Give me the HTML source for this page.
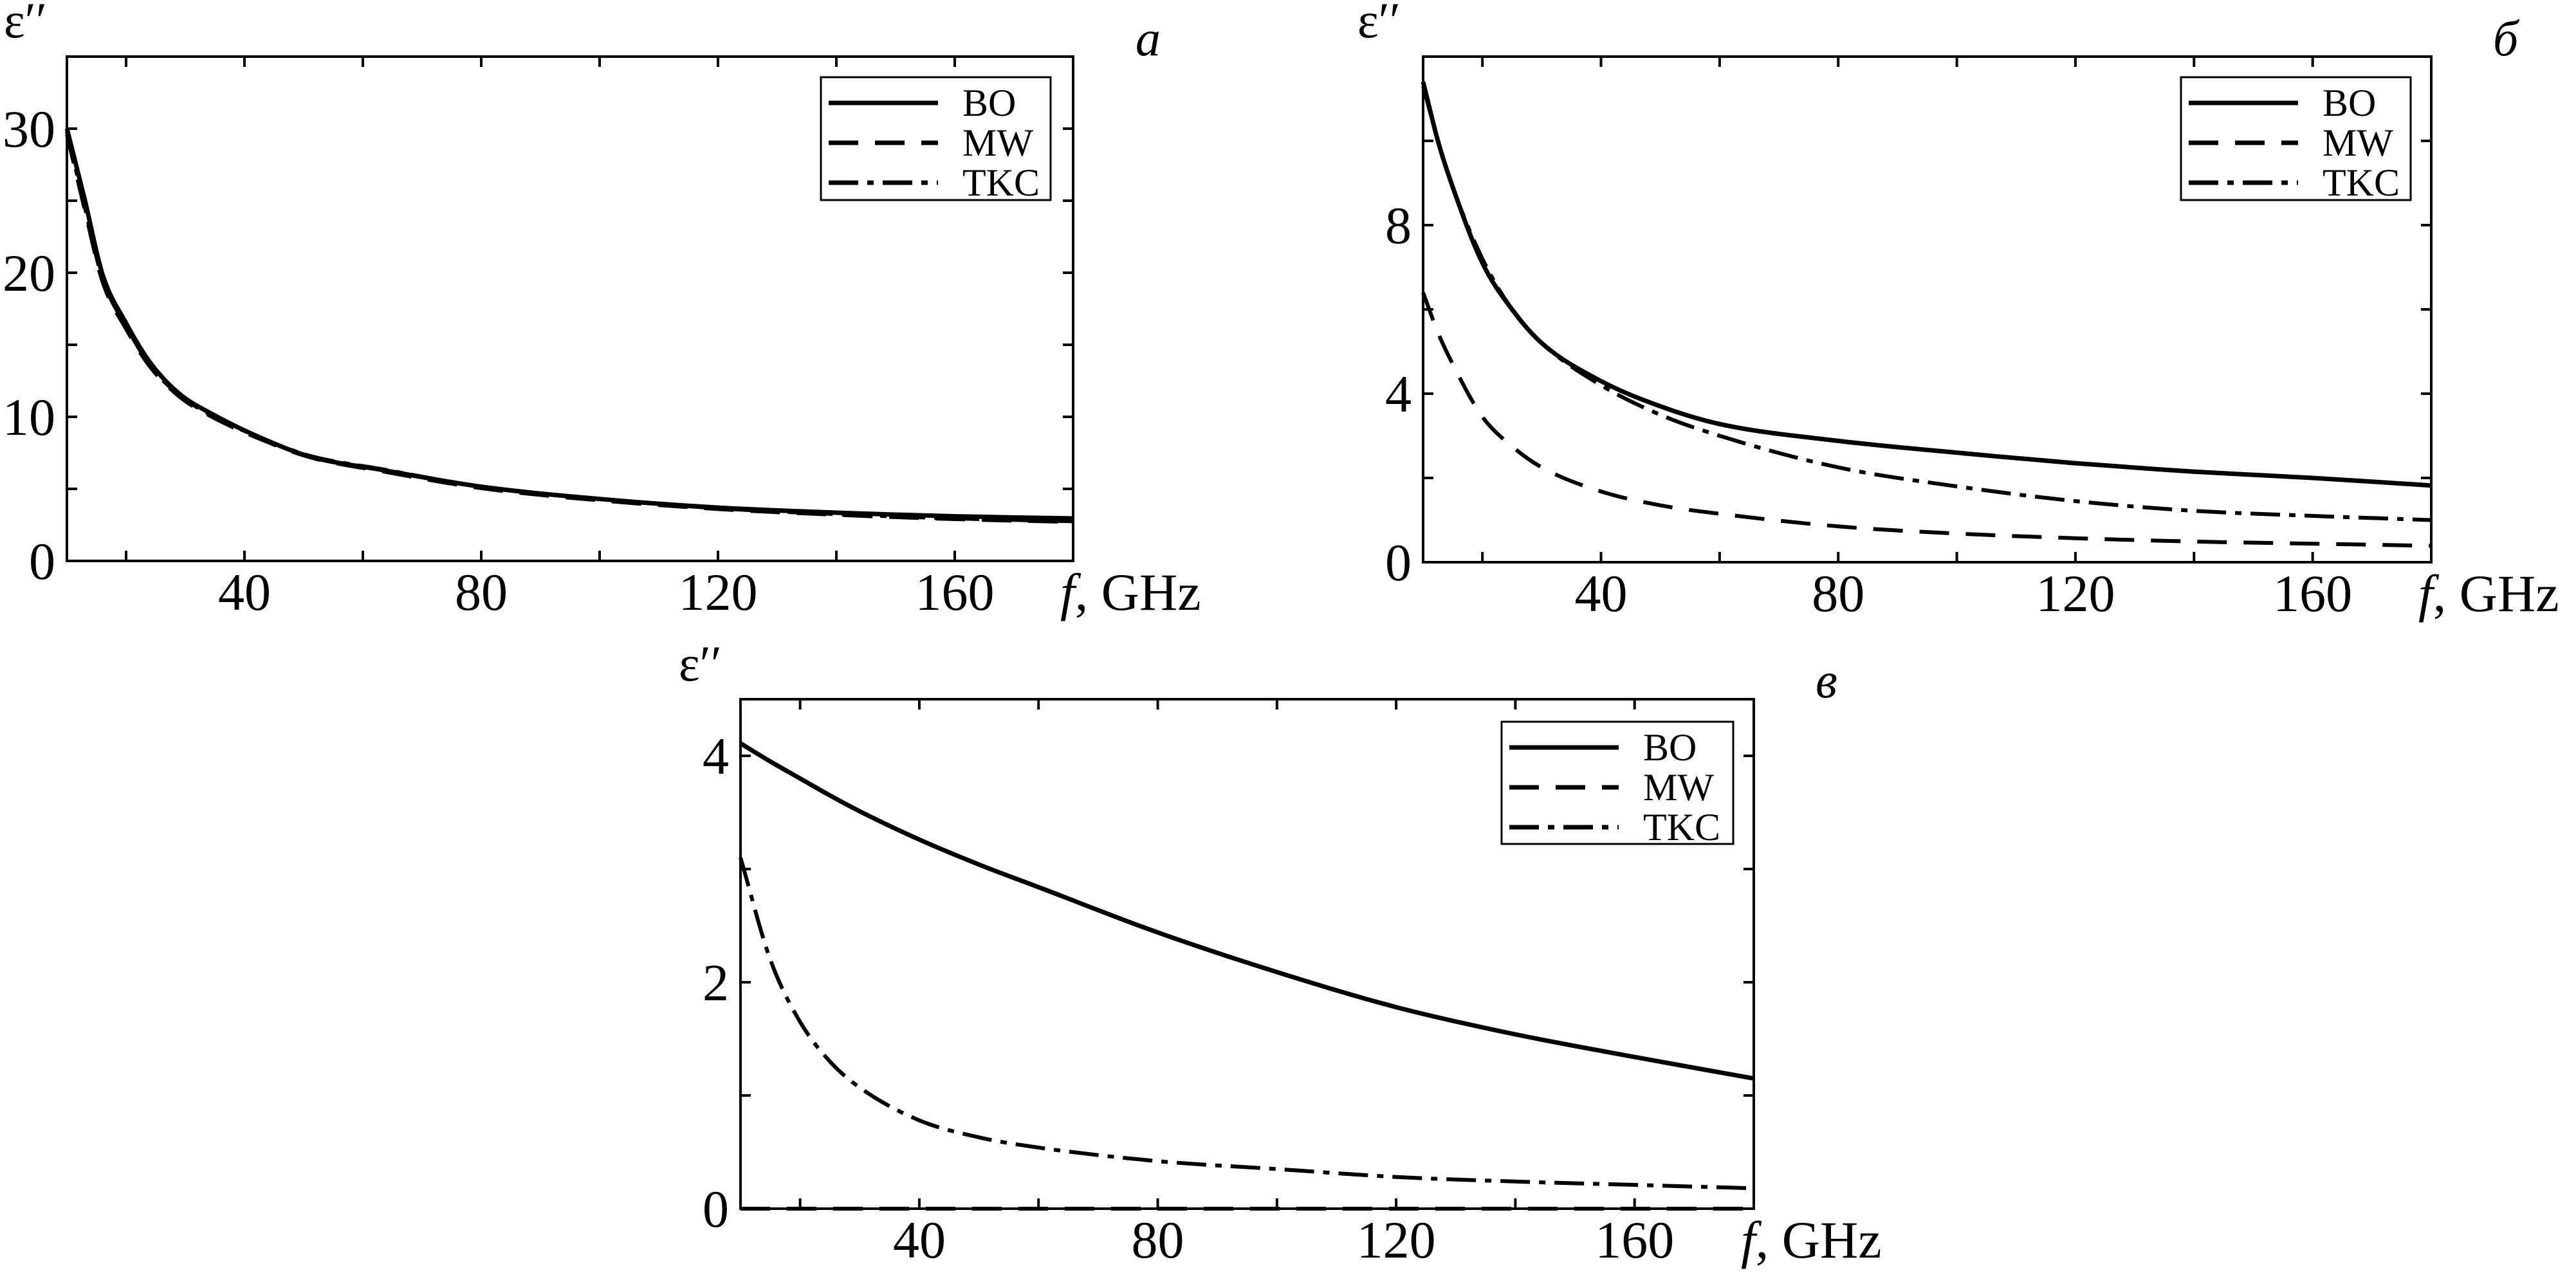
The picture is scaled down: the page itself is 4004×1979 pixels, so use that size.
<!DOCTYPE html>
<html><head><meta charset="utf-8">
<style>
html,body{margin:0;padding:0;background:#fff;}
svg{display:block;}
text{font-family:"Liberation Serif",serif;fill:#000;}
</style></head>
<body>
<svg id="fig" width="4004" height="1979" viewBox="0 0 4004 1979" xmlns="http://www.w3.org/2000/svg"></svg>
<script>
// ---- data ----
const xTicksLabeled = [40, 80, 120, 160];
const xMinor = [20, 40, 60, 80, 100, 120, 140, 160];

const freqA = [10, 13, 16, 20, 24, 29, 34.5, 43, 51, 63.5, 80, 100, 120, 140, 160, 180];
const aBO  = [30, 25.1, 19.9, 16.5, 13.8, 11.6, 10.2, 8.5, 7.25, 6.3, 5.15, 4.3, 3.7, 3.35, 3.1, 2.95];
const aMW  = [29.6, 24.4, 19.4, 16.1, 13.5, 11.4, 10.0, 8.4, 7.2, 6.2, 5.05, 4.2, 3.6, 3.2, 2.9, 2.7];
const aTKC = [29.8, 24.6, 19.6, 16.3, 13.6, 11.5, 10.1, 8.5, 7.3, 6.35, 5.15, 4.3, 3.65, 3.25, 2.95, 2.75];
const aYTicks = [0, 10, 20, 30];

const freqB = [10, 12.5, 15, 20, 25, 30, 40, 50, 60, 80, 100, 120, 140, 160, 180];
const bBO  = [11.4, 10.0, 8.9, 7.1, 6.0, 5.2, 4.3, 3.7, 3.28, 2.88, 2.6, 2.35, 2.15, 2.0, 1.82];
const bMW  = [6.4, 5.45, 4.7, 3.45, 2.75, 2.25, 1.68, 1.35, 1.15, 0.85, 0.68, 0.57, 0.49, 0.44, 0.39];
const bTKC = [11.3, 10.0, 8.9, 7.2, 6.0, 5.2, 4.2, 3.5, 3.0, 2.25, 1.8, 1.45, 1.22, 1.1, 1.0];
const bYTicks = [0, 4, 8];

const freqC = [10, 15, 20, 25, 30, 40, 50, 60, 80, 100, 120, 140, 160, 180];
const cBO  = [4.11, 3.95, 3.80, 3.65, 3.51, 3.26, 3.04, 2.84, 2.44, 2.09, 1.78, 1.54, 1.34, 1.15];
const cMW  = [0, 0, 0, 0, 0, 0, 0, 0, 0, 0, 0, 0, 0, 0];
const cTKC = [3.1, 2.2, 1.65, 1.3, 1.07, 0.78, 0.63, 0.54, 0.42, 0.35, 0.28, 0.24, 0.21, 0.18];
const cYTicks = [0, 2, 4];

// ---- drawing ----
const NS = "http://www.w3.org/2000/svg";
const svg = document.getElementById('fig');
function mk(tag, attrs, parent){
  const e = document.createElementNS(NS, tag);
  for (const k in attrs) e.setAttribute(k, attrs[k]);
  (parent||svg).appendChild(e);
  return e;
}
const DASH = {BO: null, MW: "46,26", TKC: "46,14,10,14"};

function smoothPath(px, py){
  const n = px.length;
  const d = [], m = [];
  for (let i = 0; i < n-1; i++) d.push((py[i+1]-py[i])/(px[i+1]-px[i]));
  m.push(d[0]);
  for (let i = 1; i < n-1; i++) m.push(d[i-1]*d[i] <= 0 ? 0 : (d[i-1]+d[i])/2);
  m.push(d[n-2]);
  for (let i = 0; i < n-1; i++) {
    if (d[i] === 0) { m[i] = 0; m[i+1] = 0; continue; }
    const a = m[i]/d[i], b = m[i+1]/d[i], s = a*a + b*b;
    if (s > 9) { const t = 3/Math.sqrt(s); m[i] = t*a*d[i]; m[i+1] = t*b*d[i]; }
  }
  let p = 'M' + px[0].toFixed(1) + ',' + py[0].toFixed(1);
  for (let i = 0; i < n-1; i++) {
    const h = (px[i+1]-px[i])/3;
    p += ' C' + (px[i]+h).toFixed(1) + ',' + (py[i]+m[i]*h).toFixed(1) + ' ' +
         (px[i+1]-h).toFixed(1) + ',' + (py[i+1]-m[i+1]*h).toFixed(1) + ' ' +
         px[i+1].toFixed(1) + ',' + py[i+1].toFixed(1);
  }
  return p;
}

function panel(id, L, R, T, B, yMax, yMinorStep, yTicks, freq, series, leg, letter, letterX, letterY, epsX, epsY){
  const g = mk('g', {});
  
  
  const xs = f => L + (f - 10) / 170 * (R - L);
  const ys = v => B - v / yMax * (B - T);
  const frame = mk('rect', {x:L, y:T, width:R-L, height:B-T, fill:'none', stroke:'#000', 'stroke-width':4}, g);
  
  
  const tl = 16;
  xMinor.forEach(f => {
    const x = xs(f);
    const t1 = mk('line', {x1:x, x2:x, y1:B, y2:B-tl, stroke:'#000','stroke-width':4}, g);
    
    
    const t2 = mk('line', {x1:x, x2:x, y1:T, y2:T+tl, stroke:'#000','stroke-width':4}, g);
    
    
  });
  xTicksLabeled.forEach(f => {
    const t = mk('text', {x:xs(f), y:B+76, 'font-size':82, 'text-anchor':'middle'}, g);
    t.textContent = String(f);
    
    
  });
  for (let v = yMinorStep; v < yMax - 1e-9; v += yMinorStep) {
    const y = ys(v);
    const t1 = mk('line', {x1:L, x2:L+tl, y1:y, y2:y, stroke:'#000','stroke-width':4}, g);
    
    
    const t2 = mk('line', {x1:R, x2:R-tl, y1:y, y2:y, stroke:'#000','stroke-width':4}, g);
    
    
  }
  yTicks.forEach(v => {
    const t = mk('text', {x:L-18, y:ys(v)+28, 'font-size':82, 'text-anchor':'end'}, g);
    t.textContent = String(v);
    
    
  });
  const xl = mk('text', {x:R-20, y:B+76, 'font-size':82}, g);
  xl.innerHTML = '<tspan font-style="italic">f</tspan>, GHz';
  
  
  const yl = mk('text', {x:epsX, y:epsY, 'font-size':78}, g);
  yl.textContent = 'ε′′';
  
  
  const lt = mk('text', {x:letterX, y:letterY, 'font-size':78, 'font-style':'italic'}, g);
  lt.textContent = letter;
  
  
  const names = ['BO','MW','TKC'];
  names.forEach((n, i) => {
    const vals = series[i];
    const d = smoothPath(freq.map(xs), vals.map(ys));
    const a = {d:d, fill:'none', stroke:'#000', 'stroke-width': n==='BO'?7:6, 'stroke-linejoin':'round'};
    if (DASH[n]) a['stroke-dasharray'] = DASH[n];
    const p = mk('path', a, g);
    
    
  });
  const lg = mk('g', {}, g);
  
  
  mk('rect', {x:leg.x, y:leg.y, width:leg.w, height:leg.h, fill:'#fff', stroke:'#000', 'stroke-width':3}, lg);
  names.forEach((n, i) => {
    const y = leg.y + 40 + i * 62;
    const a = {x1:leg.x+12, x2:leg.x+182, y1:y, y2:y, stroke:'#000', 'stroke-width':7};
    if (DASH[n]) a['stroke-dasharray'] = DASH[n];
    const ln = mk('line', a, lg);
    
    
    const t = mk('text', {x:leg.x+220, y:y+20, 'font-size':60}, lg);
    t.textContent = n;
    
    
  });
}

panel('a', 104, 1668, 88, 872, 35, 5, aYTicks, freqA, [aBO, aMW, aTKC],
      {x:1276, y:120, w:357, h:191}, 'a', 1765, 86, 6, 58);
panel('b', 2212, 3779, 88, 874, 12, 2, bYTicks, freqB, [bBO, bMW, bTKC],
      {x:3390, y:120, w:357, h:191}, 'б', 3875, 86, 2110, 58);
panel('c', 1151, 2726, 1087, 1879, 4.5, 1, cYTicks, freqC, [cBO, cMW, cTKC],
      {x:2334, y:1122, w:360, h:190}, 'в', 2822, 1084, 1055, 1058);
</script>
</body></html>
